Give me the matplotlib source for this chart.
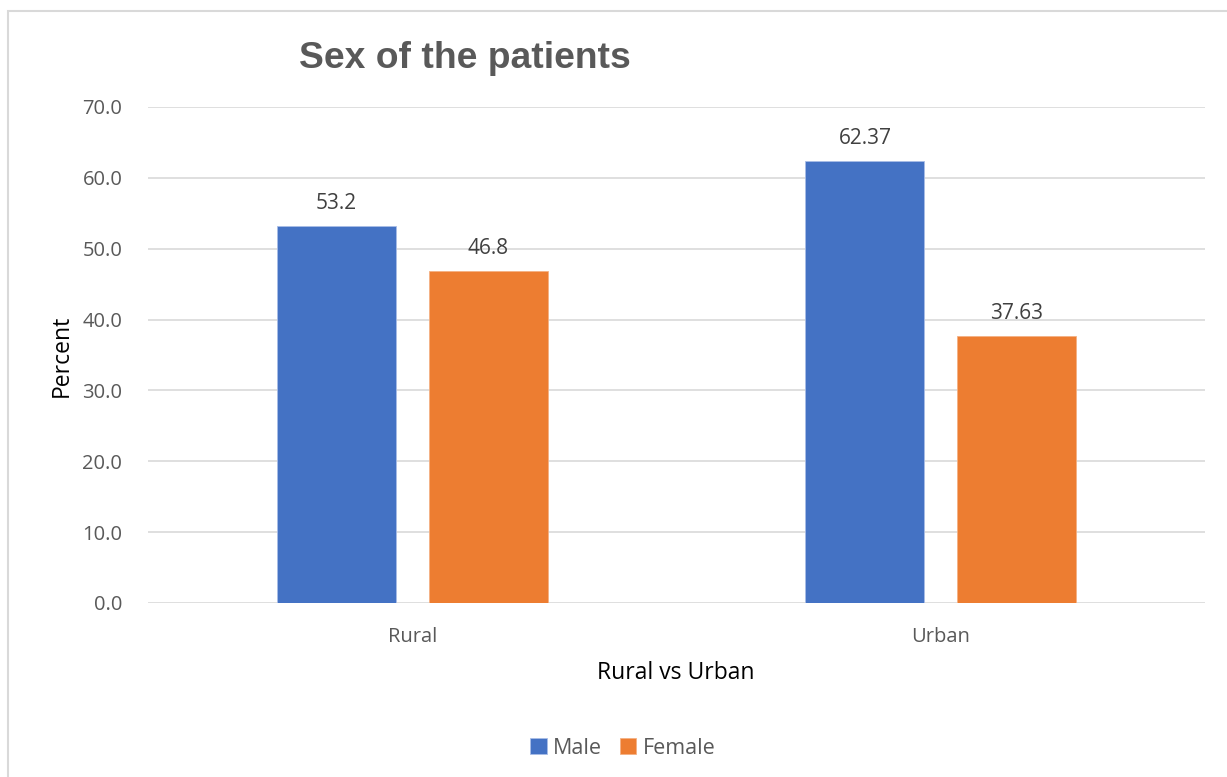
import numpy as np
import matplotlib.pyplot as plt
from matplotlib.patches import Rectangle

categories = ["Rural", "Urban"]
male = [53.2, 62.37]
female = [46.8, 37.63]
male_labels = ["53.2", "62.37"]
female_labels = ["46.8", "37.63"]
yticks = [0, 10, 20, 30, 40, 50, 60, 70]

W, H = 1227, 777
fig = plt.figure(figsize=(W / 100, H / 100), dpi=100)
fig.patch.set_facecolor("white")

# outer chart border
fig.patches.append(Rectangle((8 / W, -0.01), 1.1, (H - 11) / H + 0.01,
                             transform=fig.transFigure, fill=False,
                             edgecolor="#d9d9d9", linewidth=1.5))

ax = fig.add_axes([148 / W, (H - 603) / H, (1205 - 148) / W, (603 - 107) / H])

text_font = ["Open Sans", "DejaVu Sans"]
tick_color = "#595959"
label_color = "#404040"

x = np.arange(len(categories))
width = 0.225
offset = 0.1435
blue = "#4472c4"
orange = "#ed7d31"

b1 = ax.bar(x - offset, male, width, color=blue, label="Male", zorder=3,
            edgecolor="#a9bde6", linewidth=0.6)
b2 = ax.bar(x + offset, female, width, color=orange, label="Female", zorder=3,
            edgecolor="#f4b183", linewidth=0.6)

for bars, labels in ((b1, male_labels), (b2, female_labels)):
    for rect, lab in zip(bars, labels):
        ax.annotate(lab, (rect.get_x() + rect.get_width() / 2, rect.get_height()),
                    xytext=(0, 9), textcoords="offset points", ha="center",
                    va="bottom", fontsize=15, color=label_color, family=text_font)

ax.set_xlim(-0.5, 1.5)
ax.set_ylim(0, 70)
ax.set_yticks(yticks)
ax.set_yticklabels([f"{v:.1f}" for v in yticks], family=text_font,
                   fontsize=14.5, color=tick_color)
ax.set_xticks(x)
ax.set_xticklabels(categories, family=text_font, fontsize=14.5, color=tick_color)
ax.tick_params(axis="both", length=0)
ax.tick_params(axis="y", pad=18.5)
ax.tick_params(axis="x", pad=17)

ax.grid(axis="y", color="#d9d9d9", linewidth=1.2, zorder=0)
for s in ax.spines.values():
    s.set_visible(False)

fig.text(62 / W, 1 - 356 / H, "Percent", rotation=90, ha="center", va="center",
         family=text_font, fontsize=16.5, color="#000000")
fig.text(676 / W, 1 - 673 / H, "Rural vs Urban", ha="center", va="center",
         family=text_font, fontsize=16.5, color="#000000")

fig.text(465 / W, 1 - 58 / H, "Sex of the patients", ha="center", va="center",
         fontsize=26.8, fontweight="bold", color="#595959",
         family=["Liberation Sans", "DejaVu Sans"])

leg = fig.legend(handles=[b1, b2], labels=["Male", "Female"], loc="center",
                 bbox_to_anchor=(623 / W, 1 - 748 / H), ncol=2, frameon=False,
                 prop={"family": text_font, "size": 15.5},
                 handlelength=0.75, handleheight=0.75, handletextpad=0.3,
                 columnspacing=0.85, labelcolor=tick_color)

fig.savefig("out.png", dpi=100, facecolor="white")
